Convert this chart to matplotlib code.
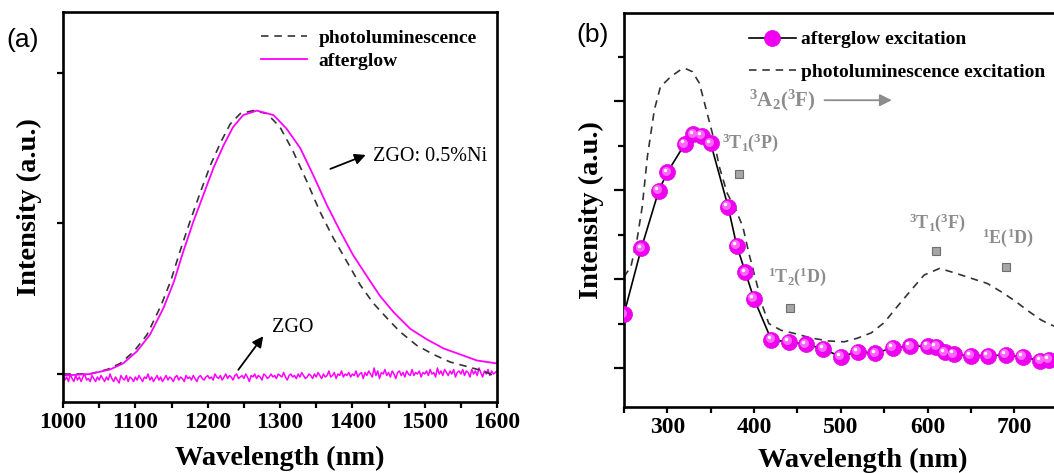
import numpy as np
import matplotlib
matplotlib.use("Agg")
import matplotlib.pyplot as plt
from matplotlib.lines import Line2D
from matplotlib.transforms import offset_copy

plt.rcParams['font.family'] = ['Liberation Serif', 'DejaVu Serif']
plt.rcParams['mathtext.fontset'] = 'custom'
plt.rcParams['mathtext.rm'] = 'Liberation Serif:bold'
plt.rcParams['mathtext.it'] = 'Liberation Serif:bold'
plt.rcParams['mathtext.bf'] = 'Liberation Serif:bold'
plt.rcParams['mathtext.default'] = 'rm'

# ---- (a) emission spectra ----
wl_a = [1000, 1020, 1037, 1065, 1083, 1102, 1120, 1139, 1153, 1166, 1180, 1194,
        1208, 1222, 1235, 1249, 1268, 1291, 1309, 1328, 1346, 1365, 1383, 1401,
        1420, 1438, 1457, 1480, 1503, 1526, 1549, 1572, 1600]
afterglow = [-0.01, -0.005, 0.00, 0.03, 0.07, 0.15, 0.26, 0.44, 0.61, 0.81, 1.01, 1.19,
             1.37, 1.52, 1.64, 1.72, 1.75, 1.72, 1.63, 1.50, 1.32, 1.12, 0.95, 0.79,
             0.65, 0.52, 0.41, 0.30, 0.23, 0.17, 0.13, 0.09, 0.07]
wl_pl = [1000, 1020, 1037, 1061, 1079, 1098, 1116, 1135, 1149, 1162, 1176, 1190,
         1204, 1218, 1231, 1245, 1263, 1282, 1300, 1318, 1337, 1355, 1374, 1392,
         1411, 1429, 1448, 1466, 1489, 1512, 1535, 1558, 1581, 1600]
photolum = [0.00, 0.00, 0.00, 0.03, 0.07, 0.15, 0.26, 0.45, 0.62, 0.82, 1.02, 1.21,
            1.39, 1.54, 1.66, 1.73, 1.75, 1.73, 1.64, 1.48, 1.28, 1.08, 0.90, 0.75,
            0.59, 0.47, 0.37, 0.28, 0.19, 0.13, 0.08, 0.05, 0.02, -0.02]
# undoped ZGO afterglow, 2.5 nm steps from 1000 to 1600 nm
zgo = [-0.01, -0.04, -0.02, -0.05, 0.00, -0.03, -0.05, -0.01, -0.04, -0.02,
       -0.05, -0.02, 0.00, -0.04, -0.03, -0.05, -0.01, -0.03, -0.05, -0.02,
       -0.04, -0.01, -0.03, -0.05, -0.02, -0.04, 0.00, -0.03, -0.05, -0.02,
       -0.04, -0.06, -0.01, -0.03, -0.04, -0.01, -0.05, -0.02, -0.03, -0.05,
       -0.02, -0.04, -0.01, -0.03, -0.05, -0.02, -0.03, 0.00, -0.04, -0.02,
       -0.05, -0.03, -0.01, -0.04, -0.02, -0.05, -0.03, -0.01, -0.04, -0.02,
       -0.03, -0.05, -0.02, -0.01, -0.04, -0.02, -0.03, -0.05, -0.01, -0.03,
       -0.02, -0.04, -0.01, -0.03, -0.05, -0.02, -0.01, -0.03, -0.04, -0.02,
       -0.01, -0.03, -0.02, -0.04, 0.00, -0.02, -0.03, -0.01, -0.04, -0.02,
       0.00, -0.03, -0.01, -0.02, -0.04, -0.01, 0.00, -0.03, -0.02, -0.01,
       -0.03, 0.00, -0.02, -0.05, -0.01, -0.02, 0.00, -0.03, -0.01, -0.02,
       -0.04, 0.00, -0.01, -0.03, -0.02, 0.00, -0.02, -0.01, -0.03, 0.00,
       -0.01, -0.02, 0.01, -0.02, -0.04, -0.01, 0.00, -0.02, -0.01, -0.03,
       0.00, -0.02, 0.01, -0.01, -0.03, -0.02, 0.00, -0.01, -0.03, 0.00,
       -0.02, 0.01, -0.01, -0.03, 0.00, -0.02, -0.01, 0.02, -0.02, -0.01,
       0.01, -0.03, 0.00, -0.01, 0.02, -0.02, 0.00, -0.01, 0.01, -0.02,
       0.00, -0.01, 0.02, -0.02, 0.00, 0.01, -0.03, 0.01, -0.01, 0.02,
       0.00, -0.02, 0.04, -0.01, 0.02, -0.03, 0.01, 0.00, 0.03, -0.01,
       0.01, -0.02, 0.02, 0.00, -0.03, 0.01, 0.02, -0.01, 0.01, -0.02,
       0.02, 0.00, -0.01, 0.03, -0.01, 0.01, 0.00, 0.02, -0.02, 0.01,
       0.00, 0.02, -0.01, 0.03, 0.00, 0.01, -0.02, 0.04, 0.00, 0.02,
       -0.01, 0.03, 0.01, -0.01, 0.02, 0.00, 0.03, -0.02, 0.01, 0.02,
       0.00, 0.03, -0.01, 0.02, 0.01, -0.02, 0.03, 0.00, 0.02, -0.01,
       0.04, 0.01, -0.02, 0.02, 0.00, 0.03, -0.01, 0.02, 0.00, 0.01,
       0.02]
wl_zgo = np.linspace(1000, 1600, len(zgo))

# ---- (b) excitation spectra ----
wl_ex = [250, 270, 290, 300, 320, 330, 340, 350, 370, 380, 390, 400, 420, 440,
         460, 480, 500, 520, 540, 560, 580, 600, 610, 620, 630, 650, 670, 690,
         710, 730, 740, 760, 780]
ag_ex = [2.21, 3.69, 4.98, 5.40, 6.03, 6.25, 6.22, 6.05, 4.63, 3.75, 3.15, 2.55,
         1.63, 1.59, 1.53, 1.43, 1.25, 1.37, 1.33, 1.46, 1.49, 1.49, 1.48, 1.35,
         1.31, 1.28, 1.28, 1.29, 1.25, 1.16, 1.18, 1.20, 1.15]
wl_ple = [250, 258, 265, 271, 277, 285, 292, 304, 315, 321, 329, 337, 344, 352,
          360, 369, 379, 387, 394, 402, 410, 417, 431, 446, 465, 485, 504, 519,
          535, 550, 565, 581, 596, 614, 631, 650, 669, 687, 702, 717, 731, 742,
          760, 780, 800]
ple = [3.05, 3.28, 3.88, 4.62, 5.75, 6.80, 7.32, 7.55, 7.70, 7.73, 7.66, 7.40,
       6.87, 6.27, 5.52, 4.93, 4.55, 4.18, 3.58, 2.98, 2.38, 2.00, 1.85, 1.78,
       1.68, 1.61, 1.59, 1.67, 1.79, 2.02, 2.38, 2.75, 3.09, 3.24, 3.14, 3.02,
       2.90, 2.69, 2.49, 2.27, 2.08, 1.97, 1.86, 1.78, 1.72]
trans_wl = [383, 441, 610, 690]
trans_y = [5.37, 2.35, 3.64, 3.28]
trans_labels = [r'$^3$T$_1$($^3$P)', r'$^1$T$_2$($^1$D)', r'$^3$T$_1$($^3$F)', r'$^1$E($^1$D)']
label_pos = [(363, 6.06), (416, 3.05), (579, 4.26), (663, 3.94)]

magenta = '#ff00ff'
dash_col = '#333333'
grey = '#8c8c8c'

fig = plt.figure(figsize=(10.54, 4.73), dpi=100)
ax1 = fig.add_axes([0.0598, 0.1501, 0.4118, 0.8245])
ax2 = fig.add_axes([0.5920, 0.1395, 0.4526, 0.8330])

for ax in (ax1, ax2):
    for s in ax.spines.values():
        s.set_linewidth(1.9)
    ax.tick_params(which='both', direction='out', width=1.6, length=4, labelsize=17)

# panel (a)
ax1.plot(wl_zgo, zgo, color=magenta, lw=1.1)
ax1.plot(wl_pl, photolum, color=dash_col, lw=1.2, dashes=(4.5, 3.5), label='photoluminescence')
ax1.plot(wl_a, afterglow, color=magenta, lw=1.3, label='afterglow')
ax1.set_xlim(1000, 1600)
ax1.set_ylim(-0.186, 2.405)
ax1.set_xticks(range(1000, 1601, 100))
ax1.set_xticks(range(1050, 1600, 100), minor=True)
ax1.set_yticks([0, 1, 2])
ax1.set_yticklabels([])
ax1.set_xlabel('Wavelength (nm)', fontsize=20.5, fontweight='bold', labelpad=9)
ax1.set_ylabel('Intensity (a.u.)', fontsize=20.5, fontweight='bold', labelpad=8)
ax1.legend(loc='upper left', bbox_to_anchor=(0.455, 0.955), frameon=False,
           prop=dict(family='Liberation Serif', weight='bold', size=14),
           handlelength=2.4, handletextpad=0.6, labelspacing=0.25,
           borderpad=0, borderaxespad=0)
ax1.annotate('', xy=(1422, 1.462), xytext=(1366, 1.356),
             arrowprops=dict(arrowstyle='-|>', color='black', lw=1.3, mutation_scale=16))
ax1.text(1428, 1.442, 'ZGO: 0.5%Ni', fontsize=14.5, va='center', ha='left')
ax1.annotate('', xy=(1279, 0.266), xytext=(1240, 0.013),
             arrowprops=dict(arrowstyle='-|>', color='black', lw=1.3, mutation_scale=16))
ax1.text(1289, 0.31, 'ZGO', fontsize=14.5, va='center', ha='left')

# panel (b)
ax2.plot(wl_ple, ple, color=dash_col, lw=1.2, dashes=(4.5, 3.5))
ag_line, = ax2.plot(wl_ex, ag_ex, color='black', lw=1.2, marker='o', markersize=11.5,
                    markerfacecolor='#f000f0', markeredgecolor='#e000e0', markeredgewidth=0.5,
                    zorder=3)
# shading on the spheres
shine = offset_copy(ax2.transData, fig=fig, x=-1.2, y=1.2, units='points')
ax2.plot(wl_ex, ag_ex, ls='none', marker='o', markersize=6.5, markerfacecolor='#ff66ff',
         markeredgecolor='none', transform=shine, zorder=4)
spot = offset_copy(ax2.transData, fig=fig, x=-2.0, y=2.0, units='points')
ax2.plot(wl_ex, ag_ex, ls='none', marker='o', markersize=2.5, markerfacecolor='white',
         markeredgecolor='none', transform=spot, zorder=5)
ax2.plot(trans_wl, trans_y, ls='none', marker='s', markersize=6,
         markerfacecolor='#a6a6a6', markeredgecolor='#6e6e6e', markeredgewidth=0.8)
for lab, (x, y) in zip(trans_labels, label_pos):
    ax2.text(x, y, lab, fontsize=13, color=grey, fontweight='bold', ha='left', va='center')
ax2.text(394, 7.02, r'$^3$A$_2$($^3$F)', fontsize=15, color=grey, fontweight='bold',
         ha='left', va='center')
ax2.annotate('', xy=(562, 7.02), xytext=(478, 7.02),
             arrowprops=dict(arrowstyle='-|>', color=grey, lw=1.3, mutation_scale=18))
ax2.set_xlim(250, 800)
ax2.set_ylim(0.124, 8.98)
ax2.set_xticks(range(300, 701, 100))
ax2.set_xticks(range(250, 800, 100), minor=True)
ax2.set_yticks([1, 3, 5, 7])
ax2.set_yticks([2, 4, 6, 8], minor=True)
ax2.set_yticklabels([])
ax2.tick_params(axis='y', which='major', length=7)
ax2.set_xlabel('Wavelength (nm)', fontsize=20.5, fontweight='bold', labelpad=7)
ax2.set_ylabel('Intensity (a.u.)', fontsize=20.5, fontweight='bold', labelpad=4)
handles = [ag_line, Line2D([], [], color=dash_col, lw=1.2, dashes=(4.5, 3.5))]
ax2.legend(handles, ['afterglow excitation', 'photoluminescence excitation'],
           loc='upper left', bbox_to_anchor=(0.262, 0.955), frameon=False,
           prop=dict(family='Liberation Serif', weight='bold', size=14),
           handlelength=2.4, handletextpad=0.3, labelspacing=0.75,
           borderpad=0, borderaxespad=0)

for ax in (ax1, ax2):
    for t in ax.get_xticklabels():
        t.set_fontweight('bold')

fig.text(0.021, 0.915, '(a)', fontsize=19, family='Liberation Sans', ha='center', va='center')
fig.text(0.562, 0.925, '(b)', fontsize=19, family='Liberation Sans', ha='center', va='center')

fig.savefig('out.png', dpi=100)
